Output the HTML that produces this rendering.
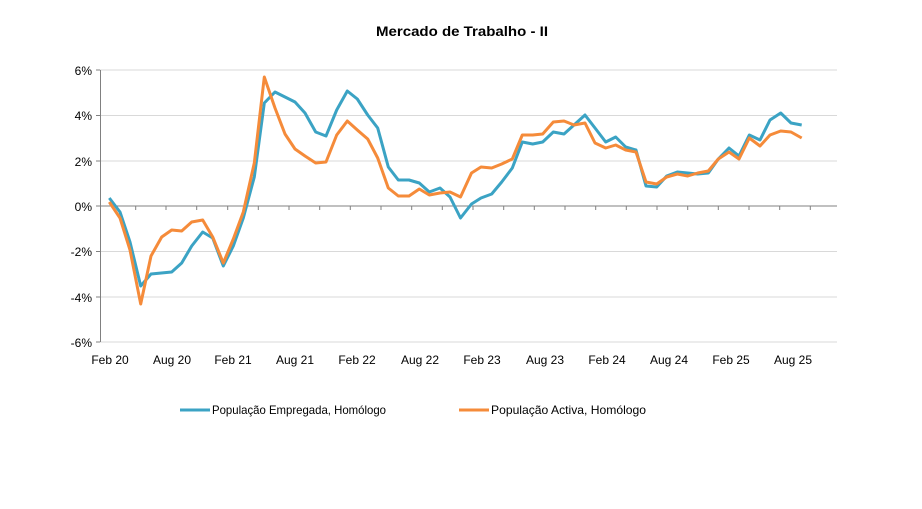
<!DOCTYPE html>
<html><head><meta charset="utf-8"><style>
body{margin:0;background:#fff;}
svg text{font-family:"Liberation Sans",Arial,sans-serif;fill:#000;}
</style></head><body>
<svg width="922" height="504" viewBox="0 0 922 504" xmlns="http://www.w3.org/2000/svg">
<rect width="922" height="504" fill="#fff"/>
<text x="462" y="36" text-anchor="middle" font-size="14" font-weight="bold" textLength="172" lengthAdjust="spacingAndGlyphs">Mercado de Trabalho  - II</text>
<g stroke="#d9d9d9" stroke-width="1">
<line x1="100" y1="70" x2="837" y2="70"/>
<line x1="100" y1="115.5" x2="837" y2="115.5"/>
<line x1="100" y1="161" x2="837" y2="161"/>
<line x1="100" y1="251.5" x2="837" y2="251.5"/>
<line x1="100" y1="297" x2="837" y2="297"/>
<line x1="100" y1="342" x2="837" y2="342"/>
</g>
<g stroke="#808080" stroke-width="1">
<line x1="100.5" y1="70" x2="100.5" y2="342"/>
<line x1="96" y1="70" x2="100" y2="70"/><line x1="96" y1="115.5" x2="100" y2="115.5"/><line x1="96" y1="161" x2="100" y2="161"/><line x1="96" y1="206" x2="100" y2="206"/><line x1="96" y1="251.5" x2="100" y2="251.5"/><line x1="96" y1="297" x2="100" y2="297"/><line x1="96" y1="342" x2="100" y2="342"/>
<line x1="100" y1="206" x2="837" y2="206"/>
<path d="M135.7 206v4M166 206v4M196.7 206v4M227.7 206v4M258.3 206v4M289 206v4M319.7 206v4M350.3 206v4M381 206v4M411.7 206v4M442.3 206v4M473 206v4M503.7 206v4M534.3 206v4M565 206v4M595.7 206v4M626.3 206v4M657 206v4M687.7 206v4M718.3 206v4M749 206v4M779.7 206v4M810.3 206v4"/>
</g>
<g font-size="12" text-anchor="end">
<text x="92" y="75">6%</text><text x="92" y="120">4%</text><text x="92" y="166">2%</text><text x="92" y="211">0%</text><text x="92" y="256">-2%</text><text x="92" y="302">-4%</text><text x="92" y="347">-6%</text>
</g>
<g font-size="12" text-anchor="middle">
<text x="110" y="364">Feb 20</text><text x="172" y="364">Aug 20</text><text x="233" y="364">Feb 21</text><text x="295" y="364">Aug 21</text><text x="357" y="364">Feb 22</text><text x="420" y="364">Aug 22</text><text x="482" y="364">Feb 23</text><text x="545" y="364">Aug 23</text><text x="607" y="364">Feb 24</text><text x="669" y="364">Aug 24</text><text x="731" y="364">Feb 25</text><text x="793" y="364">Aug 25</text>
</g>
<polyline fill="none" stroke="#3ba3c4" stroke-width="3" stroke-linejoin="round" points="109.3,198 120,212 130,242 140.7,286 151,274 171.7,272 181.7,263 191.7,246 202.7,232 212.7,238 223.3,266 233.3,246 243.3,218 254.3,177 264.3,103 275,92 285,97 295,102 305,113 315.7,132 326,136 336.7,110 347.3,91 357.3,99 367.7,115 377.7,128 388.3,167 398.3,180 409,180 419.3,183 429.3,192 440,188 450,197 460.5,218 471.5,204 481,198 491.7,194 501.7,182 512.3,168 522.3,142 532.7,144 542.7,142 553.3,132 564,134 574,125 585,115 595,128 605.7,142 615.7,137 625.7,147 636,150 646,186 656.7,187 666.7,176 677.3,172 687.7,173 697.7,174 708.3,173 718.3,159 729,148 739,156 749.3,135 760,140 770,120 780.7,113 791,123 801.7,125"/>
<polyline fill="none" stroke="#f58b3a" stroke-width="3" stroke-linejoin="round" points="109.3,202 120,218 130,250 140.7,304 151,256 161.7,237 171.7,230 181.7,231 191.7,222 202.7,220 212.7,237 223.3,263 233.3,239 243.3,212 254.3,163 264.3,77 275,108 285,134 295,149 305,156 315.7,163 326,162 336.7,135 347.3,121 357.3,130 367.7,139 377.7,158 388.3,188 398.3,196 409,196 419.3,189 429.3,195 440,193 450,192 460.5,197 471.5,173 481,167 491.7,168 501.7,164 512.3,159 522.3,135 532.7,135 542.7,134 553.3,122 564,121 574,125 585,123 595,143 605.7,148 615.7,145 625.7,150 636,152 646,182 656.7,184 666.7,177 677.3,174 687.7,176 697.7,173 708.3,171 718.3,159 729,152 739,159 749.3,138 760,146 770,135 780.7,131 791,132 801.7,138"/>
<line x1="180" y1="410" x2="210" y2="410" stroke="#3ba3c4" stroke-width="3"/>
<text x="212" y="414" font-size="12" textLength="174" lengthAdjust="spacingAndGlyphs">População Empregada, Homólogo</text>
<line x1="459" y1="410" x2="489" y2="410" stroke="#f58b3a" stroke-width="3"/>
<text x="491" y="414" font-size="12" textLength="155" lengthAdjust="spacingAndGlyphs">População Activa, Homólogo</text>
</svg>
</body></html>
